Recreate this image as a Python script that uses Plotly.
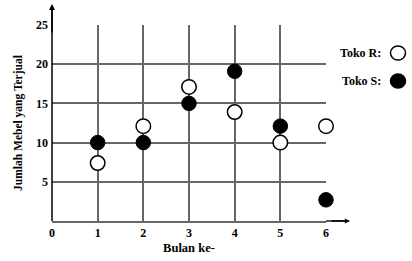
import plotly.graph_objects as go

bulan = [1, 2, 3, 4, 5, 6]
toko_r = [7.4, 12.1, 17.1, 13.9, 10.0, 12.1]
toko_s = [10.0, 10.0, 15.0, 19.1, 12.1, 2.7]
x_ticks = [0, 1, 2, 3, 4, 5, 6]
y_ticks = [5, 10, 15, 20, 25]

FONT = "Liberation Serif"
fig = go.Figure()
fig.add_trace(go.Scatter(x=bulan, y=toko_r, mode="markers", name="Toko R",
                         marker=dict(size=14.5, color="white", line=dict(color="black", width=1.5)),
                         cliponaxis=False, showlegend=False))
fig.add_trace(go.Scatter(x=bulan, y=toko_s, mode="markers", name="Toko S",
                         marker=dict(size=14.5, color="black", line=dict(color="black", width=1)),
                         cliponaxis=False, showlegend=False))

L, B, W, H = 52, 40, 274, 196
GRID = "#666666"
fig.update_layout(
    width=412, height=261,
    margin=dict(l=L, r=412 - L - W, t=261 - B - H, b=B, autoexpand=False),
    plot_bgcolor="white", paper_bgcolor="white",
    font=dict(family=FONT, size=12, color="black"),
    xaxis=dict(range=[0, 6], tickvals=x_ticks, ticktext=["<b>%d</b>" % v for v in x_ticks],
               showgrid=True, gridcolor=GRID, gridwidth=1.5, zeroline=False, automargin=False,
               showline=True, linecolor=GRID, linewidth=1.5, ticks="",
               tickfont=dict(family=FONT, size=12),
               title=dict(text="<b>Bulan ke-</b>", font=dict(family=FONT, size=12.5), standoff=4)),
    yaxis=dict(range=[0, 25], tickvals=y_ticks, ticktext=["<b>%d</b>" % v for v in y_ticks],
               showgrid=True, gridcolor=GRID, gridwidth=1.5, automargin=False,
               zeroline=False, showline=False, ticks="", ticklabelstandoff=3,
               tickfont=dict(family=FONT, size=12),
               title=dict(text="<b>Jumlah Mebel yang Terjual</b>", font=dict(family=FONT, size=11.5), standoff=10)),
)
# axes with arrows
y_tip = (221 - 4) / H
x_tip = (350 - L) / W
fig.add_shape(type="line", xref="paper", yref="paper", x0=0, x1=0, y0=0, y1=y_tip - 0.02,
              line=dict(color="black", width=1.5))
fig.add_shape(type="line", xref="paper", yref="paper", x0=1, x1=x_tip - 0.015, y0=0, y1=0,
              line=dict(color="black", width=1.3))
fig.add_annotation(x=0, y=y_tip, xref="paper", yref="paper", ax=0, ay=30,
                   showarrow=True, arrowhead=2, arrowsize=0.8, arrowwidth=1.5, arrowcolor="black", text="")
fig.add_annotation(x=x_tip, y=0, xref="paper", yref="paper", ax=-20, ay=0,
                   showarrow=True, arrowhead=2, arrowsize=0.8, arrowwidth=1.3, arrowcolor="black", text="")

# legend
legend_items = [("Toko R:", "white", 53), ("Toko S:", "black", 81)]
for label, fill, py in legend_items:
    yp = (221 - py) / H
    fig.add_annotation(x=(383 - L) / W, y=yp, xref="paper", yref="paper", text="<b>" + label + "</b>",
                       showarrow=False, xanchor="right", yanchor="middle", font=dict(family=FONT, size=12))
    fig.add_shape(type="circle", xref="paper", yref="paper", xsizemode="pixel", ysizemode="pixel",
                  xanchor=(398 - L) / W, yanchor=yp, x0=-7.5, x1=7.5, y0=-7, y1=7,
                  fillcolor=fill, line=dict(color="black", width=1.5))

fig.write_html("out.html")
